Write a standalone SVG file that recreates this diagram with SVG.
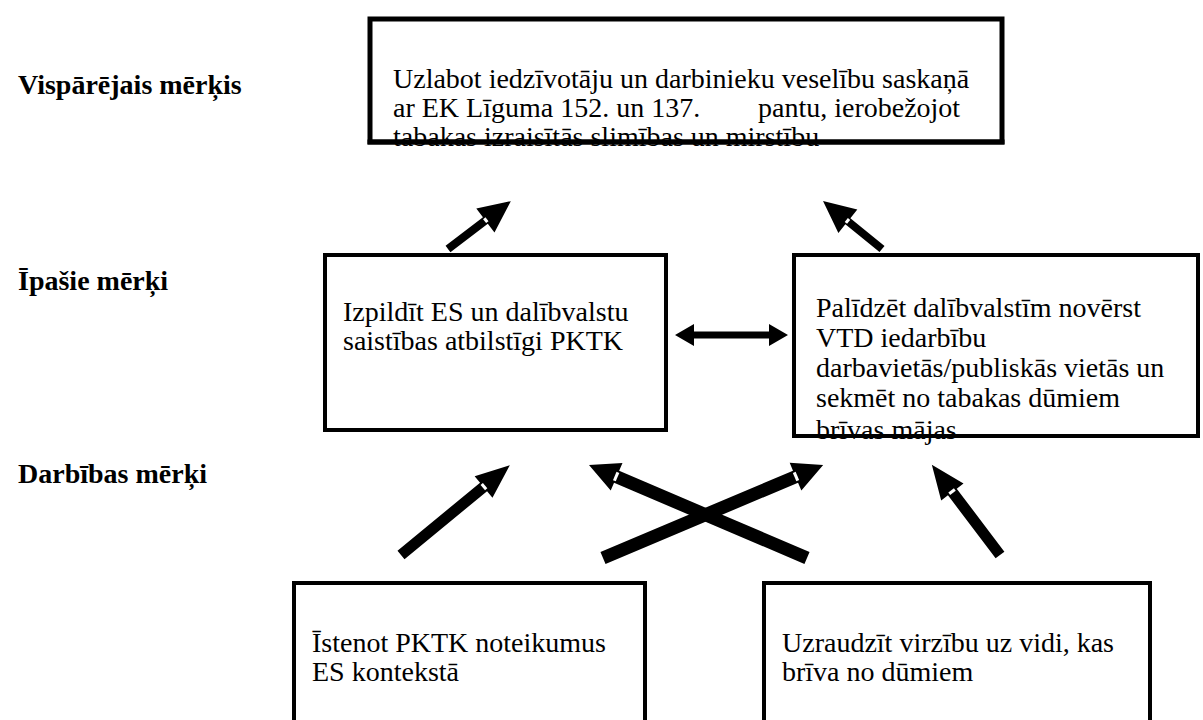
<svg xmlns="http://www.w3.org/2000/svg" width="1203" height="720" viewBox="0 0 1203 720">
<style>
.box{fill:#fff;stroke:#000;stroke-width:4}
.boxtop{fill:#fff;stroke:#000;stroke-width:5}
.t{font-family:"Liberation Serif","Times New Roman",serif;font-size:28px;fill:#000}
.lbl{font-family:"Liberation Serif","Times New Roman",serif;font-size:28px;font-weight:bold;fill:#000}
.arr{fill:#000}
.notch{fill:#fff}
</style>
<rect width="1203" height="720" fill="#fff"/>
<g id="labels">
<text class="lbl" x="18" y="94">Vispārējais mērķis</text>
<text class="lbl" x="18" y="290">Īpašie mērķi</text>
<text class="lbl" x="18" y="483">Darbības mērķi</text>
</g>
<g id="connectors">
<g transform="translate(448,249) rotate(-37.3)">
<polygon class="arr" points="0,-4 47,-4 47,-15 79,0 47,15 47,4 0,4"/>
<rect class="notch" x="46" y="-2.5" width="3" height="5"/>
</g>
<g transform="translate(882,249) rotate(-140.9)">
<polygon class="arr" points="0,-4 44,-4 44,-15 76,0 44,15 44,4 0,4"/>
<rect class="notch" x="43" y="-2.5" width="3" height="5"/>
</g>
<polygon class="arr" points="675,335 694,324 694,331.5 769,331.5 769,324 788,335 769,346 769,338.5 694,338.5 694,346"/>
<g transform="translate(401,555) rotate(-39.5)">
<polygon class="arr" points="0,-5.5 107,-5.5 107,-14 141,0 107,14 107,5.5 0,5.5"/>
<rect class="notch" x="106" y="-3.5" width="3" height="7"/>
</g>
<g transform="translate(603,558) rotate(-22.9)">
<polygon class="arr" points="0,-6.5 209,-6.5 209,-15 239,0 209,15 209,6.5 0,6.5"/>
<rect class="notch" x="208" y="-4.5" width="3" height="9"/>
</g>
<g transform="translate(807,558) rotate(-156.9)">
<polygon class="arr" points="0,-6.5 207,-6.5 207,-15 237,0 207,15 207,6.5 0,6.5"/>
<rect class="notch" x="206" y="-4.5" width="3" height="9"/>
</g>
<g transform="translate(1000,555) rotate(-127.1)">
<polygon class="arr" points="0,-5.5 79,-5.5 79,-14 113,0 79,14 79,5.5 0,5.5"/>
<rect class="notch" x="78" y="-3.5" width="3" height="7"/>
</g>
</g>
<g id="n-goal">
<rect class="boxtop" x="370" y="19" width="632" height="123"/>
<text class="t" x="393" y="88">Uzlabot iedzīvotāju un darbinieku veselību saskaņā</text>
<text class="t" x="393" y="117">ar EK Līguma 152. un 137.</text>
<text class="t" x="758" y="117">pantu, ierobežojot</text>
<text class="t" x="393" y="146">tabakas izraisītās slimības un mirstību</text>
<line x1="367.5" y1="142" x2="1004.5" y2="142" stroke="#000" stroke-width="5"/>
</g>
<g id="n-spec1">
<rect class="box" x="325" y="255" width="341" height="175"/>
<text class="t" x="343" y="321">Izpildīt ES un dalībvalstu</text>
<text class="t" x="343" y="350">saistības atbilstīgi PKTK</text>
</g>
<g id="n-spec2">
<rect class="box" x="794" y="255" width="404" height="181"/>
<text class="t" x="816" y="317">Palīdzēt dalībvalstīm novērst</text>
<text class="t" x="816" y="347">VTD iedarbību</text>
<text class="t" x="816" y="377">darbavietās/publiskās vietās un</text>
<text class="t" x="816" y="407">sekmēt no tabakas dūmiem</text>
<text class="t" x="816" y="439">brīvas mājas</text>
<line x1="792" y1="436" x2="1200" y2="436" stroke="#000" stroke-width="4"/>
</g>
<g id="n-op1">
<rect class="box" x="294" y="583" width="351" height="160"/>
<text class="t" x="312" y="652">Īstenot PKTK noteikumus</text>
<text class="t" x="312" y="681">ES kontekstā</text>
</g>
<g id="n-op2">
<rect class="box" x="764" y="583" width="386" height="160"/>
<text class="t" x="782" y="652">Uzraudzīt virzību uz vidi, kas</text>
<text class="t" x="782" y="681">brīva no dūmiem</text>
</g>
</svg>
